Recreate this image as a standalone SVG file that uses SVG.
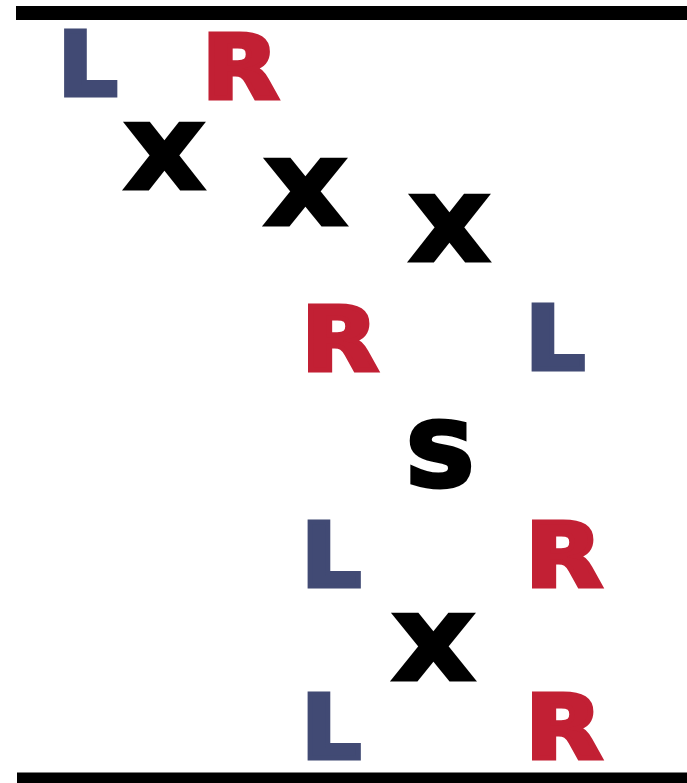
<svg xmlns="http://www.w3.org/2000/svg" width="687" height="783" viewBox="0 0 687 783">
<style>
text{font-family:"DejaVu Sans","Liberation Sans",sans-serif;font-weight:bold;font-size:88px;text-anchor:middle;stroke-width:5;stroke-linejoin:miter}
.l{fill:#414a74;stroke:#414a74}.r{fill:#c22034;stroke:#c22034}.k{fill:#000;stroke:#000}
</style>
<rect x="0" y="0" width="687" height="783" fill="#fff"/>
<g id="rules">
<rect x="16" y="6" width="671" height="14" fill="#000"/>
<rect x="17" y="772.5" width="670" height="10.5" fill="#000"/>
</g>
<g id="connectors"></g>
<g id="n-L1"><text class="l" x="87.8" y="94.5" textLength="59" lengthAdjust="spacingAndGlyphs">L</text></g>
<g id="n-R1"><text class="r" x="240.2" y="97.5" textLength="76" lengthAdjust="spacingAndGlyphs">R</text></g>
<g id="n-X1"><text class="k" x="164.5" y="187.5" textLength="78" lengthAdjust="spacingAndGlyphs">X</text></g>
<g id="n-X2"><text class="k" x="305.5" y="223.5" textLength="80" lengthAdjust="spacingAndGlyphs">X</text></g>
<g id="n-X3"><text class="k" x="449.5" y="259.5" textLength="78" lengthAdjust="spacingAndGlyphs">X</text></g>
<g id="n-R2"><text class="r" x="339.7" y="369.5" textLength="76" lengthAdjust="spacingAndGlyphs">R</text></g>
<g id="n-L2"><text class="l" x="555.3" y="368.5" textLength="59" lengthAdjust="spacingAndGlyphs">L</text></g>
<g id="n-S"><text class="k" x="440.5" y="486" textLength="70" lengthAdjust="spacingAndGlyphs">S</text></g>
<g id="n-L3"><text class="l" x="331.3" y="585.5" textLength="59" lengthAdjust="spacingAndGlyphs">L</text></g>
<g id="n-R3"><text class="r" x="563.7" y="585.5" textLength="76" lengthAdjust="spacingAndGlyphs">R</text></g>
<g id="n-X4"><text class="k" x="433.5" y="678.5" textLength="80" lengthAdjust="spacingAndGlyphs">X</text></g>
<g id="n-L4"><text class="l" x="331.3" y="757.5" textLength="59" lengthAdjust="spacingAndGlyphs">L</text></g>
<g id="n-R4"><text class="r" x="563.7" y="757.5" textLength="76" lengthAdjust="spacingAndGlyphs">R</text></g>
</svg>
